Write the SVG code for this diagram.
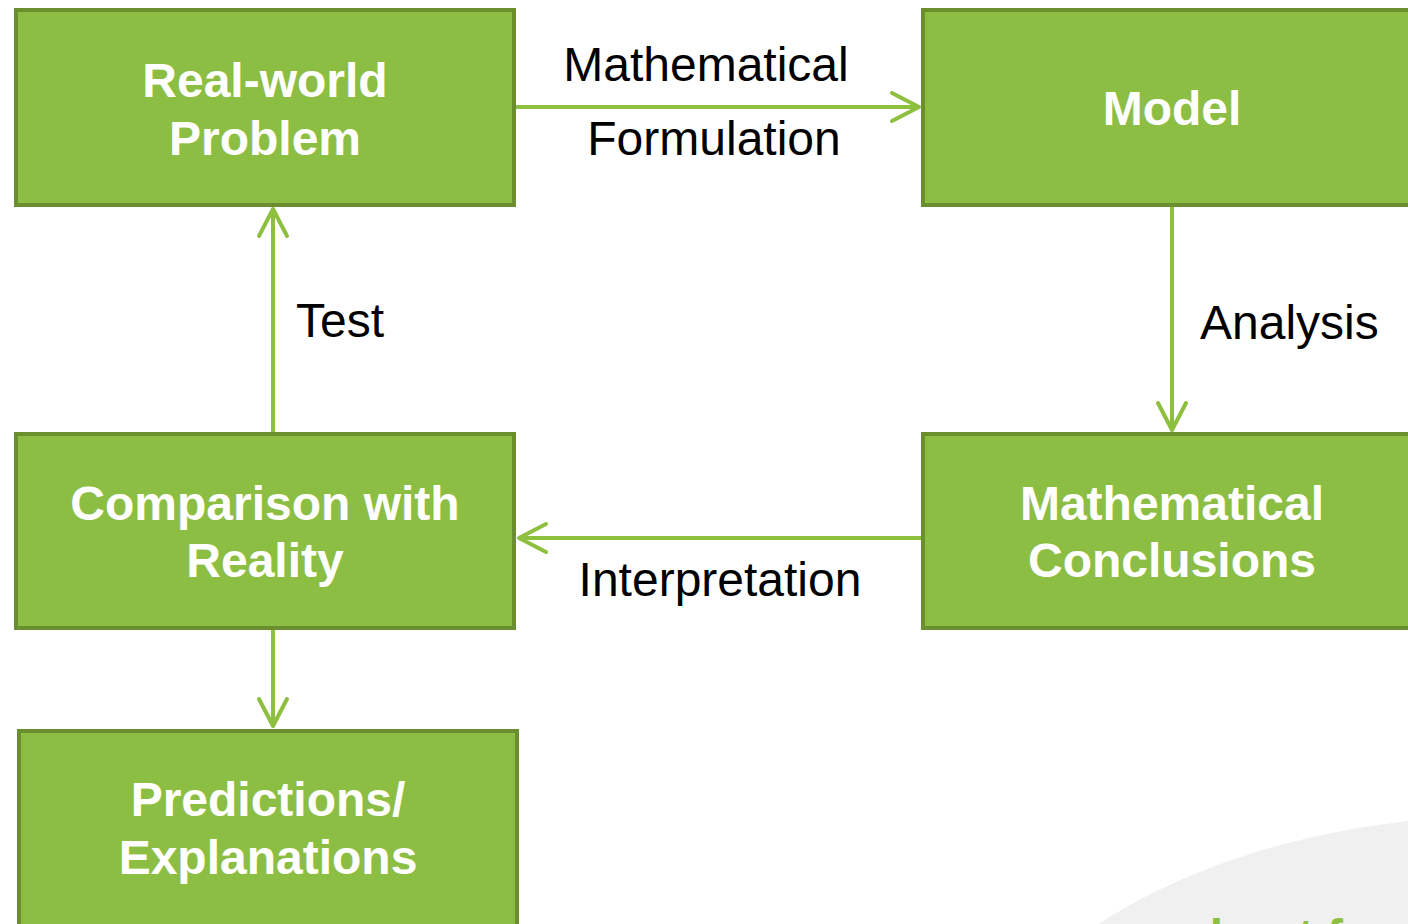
<svg xmlns="http://www.w3.org/2000/svg" width="1408" height="924" viewBox="0 0 1408 924">
  <style>
    .box { fill: #8dbe44; stroke: #6b8f2f; stroke-width: 4; }
    .title { font-family: "Liberation Sans", Arial, sans-serif; font-weight: bold; font-size: 48px; fill: #ffffff; text-anchor: middle; }
    .label { font-family: "Liberation Sans", Arial, sans-serif; font-size: 48px; fill: #000000; }
    .edge { fill: none; stroke: #8dc03f; stroke-width: 4; marker-end: url(#chevron); }
  </style>
  <defs>
    <marker id="chevron" markerUnits="userSpaceOnUse" viewBox="-32 -18 36 36" markerWidth="36" markerHeight="36" refX="0" refY="0" orient="auto">
      <path d="M -27 -14 L 0 0 L -27 14" fill="none" stroke="#8dc03f" stroke-width="4" stroke-linecap="round" stroke-linejoin="round"/>
    </marker>
  </defs>

  <!-- soft grey backdrop shape in the lower right corner -->
  <path d="M 1098 924 C 1160 884, 1260 838, 1408 821 L 1408 924 Z" fill="#f0f0f0"/>
  <text x="1183" y="953" font-family="Liberation Sans, Arial, sans-serif" font-weight="bold" font-size="48" fill="#8dc03f">about f</text>

  <g id="connectors">
    <path class="edge" d="M 516 107 L 919 107"/>
    <path class="edge" d="M 1172 207 L 1172 430"/>
    <path class="edge" d="M 921 538 L 519 538"/>
    <path class="edge" d="M 273 432 L 273 209"/>
    <path class="edge" d="M 273 630 L 273 726"/>
    <text class="label" x="706" y="81" text-anchor="middle">Mathematical</text>
    <text class="label" x="714" y="155" text-anchor="middle">Formulation</text>
    <text class="label" x="1200" y="339">Analysis</text>
    <text class="label" x="720" y="596" text-anchor="middle">Interpretation</text>
    <text class="label" x="296" y="337">Test</text>
  </g>

  <g id="real-world-problem">
    <rect class="box" x="16" y="10" width="498" height="195"/>
    <text class="title" x="265" y="97">Real-world</text>
    <text class="title" x="265" y="155">Problem</text>
  </g>

  <g id="model">
    <rect class="box" x="923" y="10" width="500" height="195"/>
    <text class="title" x="1172" y="125">Model</text>
  </g>

  <g id="mathematical-conclusions">
    <rect class="box" x="923" y="434" width="500" height="194"/>
    <text class="title" x="1172" y="520">Mathematical</text>
    <text class="title" x="1172" y="577">Conclusions</text>
  </g>

  <g id="comparison-with-reality">
    <rect class="box" x="16" y="434" width="498" height="194"/>
    <text class="title" x="265" y="520">Comparison with</text>
    <text class="title" x="265" y="577">Reality</text>
  </g>

  <g id="predictions-explanations">
    <rect class="box" x="19" y="731" width="498" height="220"/>
    <text class="title" x="268" y="816">Predictions/</text>
    <text class="title" x="268" y="874">Explanations</text>
  </g>
</svg>
